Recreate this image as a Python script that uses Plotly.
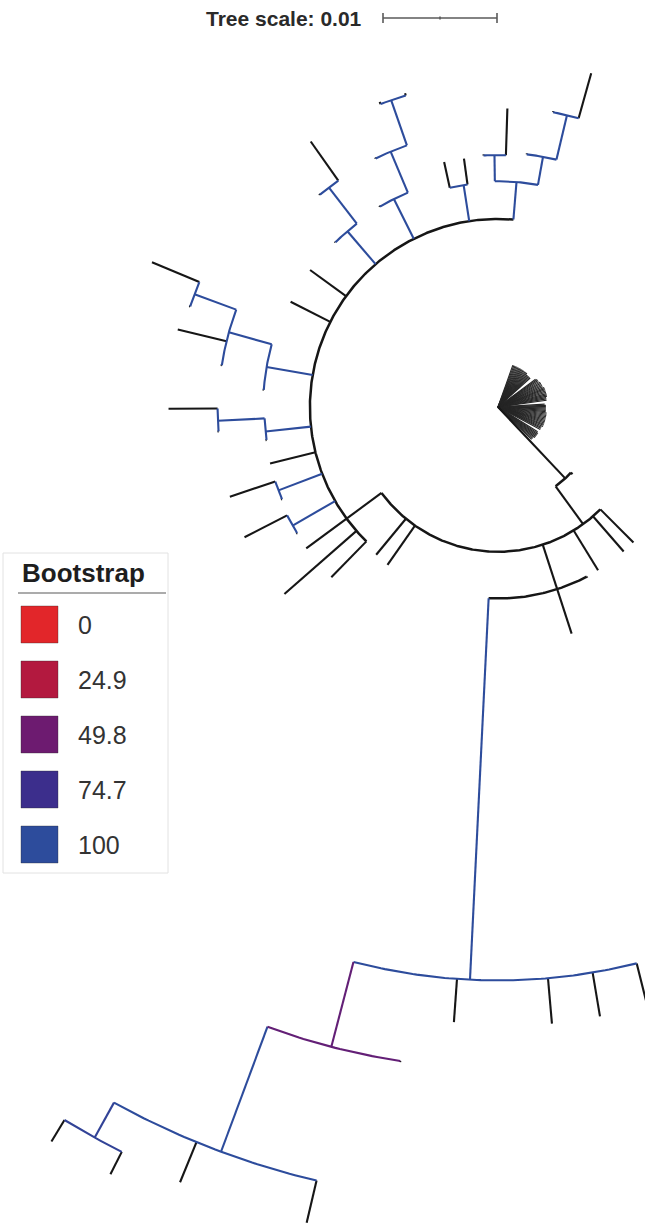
import numpy as np
import plotly.graph_objects as go

# ---------------- tree data (circular layout) ----------------
# distance = root-to-node distance (substitutions/site), angle in degrees, boot = bootstrap (None = not shown)
node_name = ["root", "A", "A_t", "B",
             "b5", "b4", "b3", "D", "b2", "b1", "C",
             "d1", "d2", "E",
             "e4", "e3", "e2", "e1", "F",
             "f1", "H",
             "h2", "h1", "I",
             "i2", "i1",
             "c_t", "b_t", "a_t", "J", "K", "g6", "L", "N", "g7", "g8", "Q1", "R1", "S", "T",
             "j1", "j2", "k1", "k2",
             "M", "l2", "m1", "m2",
             "O", "n2", "P", "o2", "o3", "p1", "p2",
             "Q2", "q1s", "q2L", "q2s",
             "R2", "r1s", "R3", "r2s", "r3a", "r3b",
             "s1", "s2",
             "U1", "V1", "u1s", "u1L", "v1s", "V2", "v2s", "v2L"]
node_parent = ["", "root", "A", "A",
               "B", "B", "B", "B", "B", "B", "B",
               "D", "D", "D",
               "E", "E", "E", "E", "E",
               "F", "F",
               "H", "H", "H",
               "I", "I",
               "C", "C", "C", "C", "C", "C", "C", "C", "C", "C", "C", "C", "C", "C",
               "J", "J", "K", "K",
               "L", "L", "M", "M",
               "N", "N", "O", "O", "O", "P", "P",
               "Q1", "Q1", "Q2", "Q2",
               "R1", "R1", "R2", "R2", "R3", "R3",
               "S", "S",
               "T", "T", "U1", "U1", "V1", "V1", "V2", "V2"]
node_dist = [0.0, 0.0086, 0.0088, 0.0127,
             0.0168, 0.0168, 0.0168, 0.0168, 0.0169, 0.0168, 0.0165,
             0.0209, 0.0169, 0.0503,
             0.0546, 0.0542, 0.0543, 0.0541, 0.0580,
             0.0581, 0.0697,
             0.0735, 0.0735, 0.0732,
             0.0754, 0.0754,
             0.0209, 0.0249, 0.0209, 0.0208, 0.0206, 0.0206, 0.0205, 0.0206, 0.0204, 0.0204, 0.0203, 0.0204, 0.0197, 0.0198,
             0.0250, 0.0209, 0.0248, 0.0207,
             0.0246, 0.0206, 0.0289, 0.0247,
             0.0245, 0.0207, 0.0284, 0.0289, 0.0246, 0.0329, 0.0285,
             0.0243, 0.0204, 0.0285, 0.0244,
             0.0243, 0.0205, 0.0285, 0.0244, 0.0287, 0.0287,
             0.0220, 0.0220,
             0.0221, 0.0223, 0.0222, 0.0262, 0.0224, 0.0263, 0.0264, 0.0304]
node_angle = [0.0, 313.3, 318.0, 306.0,
              315.0, 311.0, 301.5, 288.0, 235.0, 230.5, 216.4,
              288.0, 297.6, 267.2,
              284.0, 279.5, 275.0, 265.9, 255.4,
              261.5, 249.6,
              256.8, 247.7, 241.1,
              243.2, 238.7,
              225.6, 221.2, 216.4, 210.0, 200.8, 193.9, 186.0, 170.2, 153.1, 143.9, 130.6, 116.6, 98.8, 85.3,
              207.2, 212.1, 198.5, 203.1,
              182.8, 188.1, 180.3, 185.0,
              164.5, 175.8, 159.6, 166.4, 171.4, 157.3, 161.9,
              127.6, 134.6, 125.2, 130.0,
              112.8, 120.5, 109.2, 116.2, 111.2, 106.5,
              102.4, 97.8,
              90.8, 79.8, 93.3, 88.2, 83.5, 76.7, 79.4, 74.4]
node_boot = [None, None, None, None,
             None, None, None, None, None, None, None,
             None, None, 100,
             None, None, None, None, 55,
             None, 100,
             None, None, 92,
             None, None,
             None, None, None, 100, 100, None, 100, 100, None, None, 100, 100, 100, 100,
             None, None, None, None,
             100, None, None, None,
             100, None, 100, None, None, None, None,
             100, None, None, None,
             100, None, 100, None, None, None,
             None, None,
             100, 100, None, None, None, 100, None, None]

# short terminal branches attached directly at the root
fan_angle = [-44, -42.5, -41, -39.5, -38, -36.5, -35, -33.5, -32,
             -28, -26.5, -25, -23.5, -22, -20.5, -19, -17.5, -16, -14.5, -13,
             -11.5, -10, -8.5, -7, -5.5, -4, -2.5, -1, 0.5, 2, 3.5,
             8, 9.5, 11, 12.5, 14, 15.5, 17, 18.5, 20, 21.5,
             23, 24.5, 26, 27.5, 29, 30.5, 32, 33.5, 35, 36.5,
             42, 43.5, 45, 46.5, 48, 49.5, 51, 52.5, 54, 55.5,
             57, 58.5, 60, 61.5, 63, 64.5, 66, 67.5, 69, 70.5]
fan_dist = [0.0041, 0.0041, 0.0041, 0.0042, 0.0042, 0.0042, 0.0042, 0.0042, 0.0041,
            0.0042, 0.0042, 0.0042, 0.0043, 0.0043, 0.0043, 0.0043, 0.0043, 0.0043, 0.0043, 0.0043,
            0.0043, 0.0043, 0.0043, 0.0043, 0.0042, 0.0042, 0.0042, 0.0042, 0.0042, 0.0042, 0.0041,
            0.0043, 0.0043, 0.0043, 0.0044, 0.0044, 0.0044, 0.0044, 0.0044, 0.0044, 0.0044,
            0.0044, 0.0043, 0.0043, 0.0043, 0.0043, 0.0043, 0.0042, 0.0042, 0.0042, 0.0041,
            0.0038, 0.0038, 0.0038, 0.0038, 0.0038, 0.0039, 0.0039, 0.0039, 0.0039, 0.0039,
            0.0039, 0.0039, 0.0039, 0.0039, 0.0039, 0.0039, 0.0039, 0.0039, 0.0039, 0.0039]

# bootstrap colour legend
legend_values = [0, 24.9, 49.8, 74.7, 100]
legend_labels = ["0", "24.9", "49.8", "74.7", "100"]
legend_colors = ["#e2262a", "#b3193f", "#6d1b70", "#3c2e8c", "#2d4c9c"]

tree_scale = 0.01

# ---------------- layout constants ----------------
W, H = 645, 1226
PX_PER_UNIT = 11400.0          # pixels per substitution/site
CX, CY = 498.0, 407.0          # root position in pixels
BLACK = "#161616"


def hex_rgb(h):
    h = h.lstrip("#")
    return np.array([int(h[i:i + 2], 16) for i in (0, 2, 4)], dtype=float)


def boot_color(b):
    if b is None:
        return BLACK
    v = np.array(legend_values, dtype=float)
    cols = [hex_rgb(c) for c in legend_colors]
    b = float(np.clip(b, v[0], v[-1]))
    k = int(np.searchsorted(v, b, side="right") - 1)
    k = min(k, len(v) - 2)
    t = (b - v[k]) / (v[k + 1] - v[k])
    c = cols[k] * (1 - t) + cols[k + 1] * t
    return "rgb(%d,%d,%d)" % tuple(np.round(c))


def xy(d, a):
    t = np.radians(a)
    return d * np.cos(t), d * np.sin(t)


segs = {}


def add(color, width, xs, ys):
    key = (color, width)
    if key not in segs:
        segs[key] = ([], [])
    segs[key][0].extend(list(xs) + [None])
    segs[key][1].extend(list(ys) + [None])


idx = {n: i for i, n in enumerate(node_name)}
children = {n: [] for n in node_name}
for n, p in zip(node_name, node_parent):
    if p:
        children[p].append(n)

LW = 2.1
# fan of root tips first, so the tree branches sit on top
for a, d in zip(fan_angle, fan_dist):
    x1, y1 = xy(d, a)
    add("#262626", 1.1, [0, x1], [0, y1])

for i, n in enumerate(node_name):
    p = node_parent[i]
    col = boot_color(node_boot[i])
    # radial branch
    if p:
        d0 = node_dist[idx[p]]
        x0, y0 = xy(d0, node_angle[i])
        x1, y1 = xy(node_dist[i], node_angle[i])
        add(col, LW, [x0, x1], [y0, y1])
    # arc joining the children
    if children[n] and node_dist[i] > 0:
        angs = [node_angle[i]] + [node_angle[idx[c]] for c in children[n]]
        a0, a1 = min(angs), max(angs)
        m = max(2, int((a1 - a0) / 0.4) + 1)
        aa = np.linspace(a0, a1, m)
        ax, ay = xy(node_dist[i], aa)
        add(col, LW + (0.4 if col == BLACK else 0.0), ax, ay)

fig = go.Figure()
for (col, w), (xs, ys) in segs.items():
    fig.add_trace(go.Scatter(x=xs, y=ys, mode="lines",
                             line=dict(color=col, width=w),
                             hoverinfo="skip", showlegend=False))

# ---------------- tree scale bar ----------------
bar_y = (CY - 18) / PX_PER_UNIT
bar_x0 = (383 - CX) / PX_PER_UNIT
tick = 5 / PX_PER_UNIT
bx = [bar_x0, bar_x0 + tree_scale, None, bar_x0, bar_x0, None,
      bar_x0 + tree_scale, bar_x0 + tree_scale, None,
      bar_x0 + tree_scale / 2, bar_x0 + tree_scale / 2]
by = [bar_y, bar_y, None, bar_y - tick, bar_y + tick, None,
      bar_y - tick, bar_y + tick, None, bar_y - tick * 0.3, bar_y + tick * 0.3]
fig.add_trace(go.Scatter(x=bx, y=by, mode="lines", line=dict(color="#5a5a5a", width=1.6),
                         hoverinfo="skip", showlegend=False))


def px(x):
    return x / W


def py(y):
    return 1 - y / H


FONT = "Liberation Sans, Arial, sans-serif"
annotations = [dict(x=px(364), y=py(18), xref="paper", yref="paper", xanchor="right", yanchor="middle",
                    text="<b>Tree scale: %g</b>" % tree_scale, showarrow=False,
                    font=dict(family=FONT, size=21, color="#2a2a2a"))]

shapes = [dict(type="rect", xref="paper", yref="paper", x0=px(3), x1=px(168), y0=py(873), y1=py(553),
               line=dict(color="#e2e2e2", width=1), fillcolor="white", layer="below"),
          dict(type="line", xref="paper", yref="paper", x0=px(18), x1=px(166), y0=py(593), y1=py(593),
               line=dict(color="#ababab", width=2))]
annotations.append(dict(x=px(20), y=py(573), xref="paper", yref="paper", xanchor="left", yanchor="middle",
                        text="<b>Bootstrap</b>", showarrow=False,
                        font=dict(family=FONT, size=26, color="#1e1e1e")))
for k, (lab, c) in enumerate(zip(legend_labels, legend_colors)):
    top = 606 + 55 * k
    shapes.append(dict(type="rect", xref="paper", yref="paper", x0=px(21), x1=px(58),
                       y0=py(top + 37), y1=py(top), fillcolor=c,
                       line=dict(color="rgba(40,40,40,0.35)", width=1)))
    annotations.append(dict(x=px(76), y=py(top + 19), xref="paper", yref="paper",
                            xanchor="left", yanchor="middle", text=lab, showarrow=False,
                            font=dict(family=FONT, size=25, color="#333333")))

fig.update_layout(
    width=W, height=H, margin=dict(l=0, r=0, t=0, b=0),
    paper_bgcolor="white", plot_bgcolor="white",
    xaxis=dict(range=[(0 - CX) / PX_PER_UNIT, (W - CX) / PX_PER_UNIT], visible=False, fixedrange=True),
    yaxis=dict(range=[(CY - H) / PX_PER_UNIT, CY / PX_PER_UNIT], visible=False, fixedrange=True),
    shapes=shapes, annotations=annotations, showlegend=False,
)

fig.write_html("out.html")
